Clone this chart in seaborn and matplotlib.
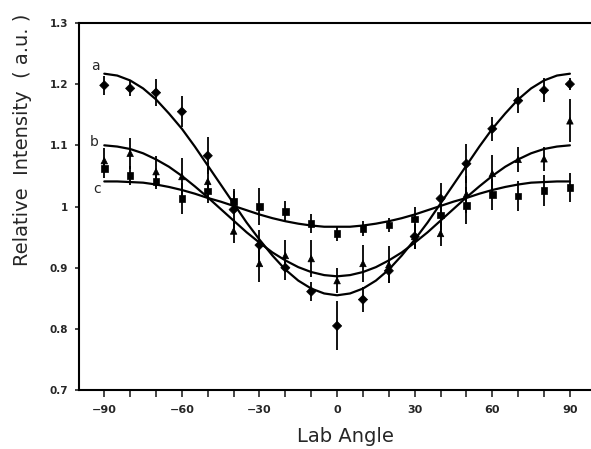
import numpy as np
import pandas as pd
import matplotlib
matplotlib.use("Agg")
import matplotlib.pyplot as plt
import seaborn as sns
from matplotlib.ticker import MultipleLocator, FixedLocator, FixedFormatter

# ---- data ----
angles = [-90, -80, -70, -60, -50, -40, -30, -20, -10, 0, 10, 20, 30, 40, 50, 60, 70, 80, 90]

a_vals = [1.198, 1.193, 1.186, 1.155, 1.083, 0.995, 0.937, 0.900, 0.861, 0.805, 0.848, 0.895, 0.951, 1.013, 1.070, 1.127, 1.173, 1.190, 1.200]
a_errs = [0.015, 0.012, 0.022, 0.025, 0.030, 0.030, 0.025, 0.020, 0.015, 0.040, 0.020, 0.020, 0.020, 0.025, 0.032, 0.020, 0.020, 0.020, 0.010]

b_vals = [1.075, 1.087, 1.057, 1.049, 1.041, 0.960, 0.907, 0.920, 0.915, 0.879, 0.907, 0.905, 0.951, 0.956, 1.020, 1.054, 1.077, 1.078, 1.140]
b_errs = [0.020, 0.025, 0.025, 0.030, 0.030, 0.020, 0.030, 0.025, 0.030, 0.020, 0.030, 0.030, 0.020, 0.020, 0.030, 0.030, 0.020, 0.020, 0.035]

c_vals = [1.062, 1.051, 1.041, 1.013, 1.025, 1.008, 1.000, 0.992, 0.972, 0.956, 0.964, 0.970, 0.980, 0.986, 1.002, 1.020, 1.017, 1.026, 1.031]
c_errs = [0.015, 0.015, 0.012, 0.025, 0.020, 0.020, 0.030, 0.017, 0.015, 0.012, 0.012, 0.012, 0.020, 0.025, 0.030, 0.025, 0.025, 0.025, 0.023]

# fitted curves, read every 5 degrees
curve_angles = [-90, -85, -80, -75, -70, -65, -60, -55, -50, -45, -40, -35, -30, -25, -20, -15, -10, -5,
                0, 5, 10, 15, 20, 25, 30, 35, 40, 45, 50, 55, 60, 65, 70, 75, 80, 85, 90]
a_curve = [1.217, 1.214, 1.206, 1.193, 1.175, 1.152, 1.127, 1.098, 1.067, 1.036, 1.005, 0.974, 0.946, 0.920, 0.897, 0.879, 0.866, 0.858,
           0.855, 0.858, 0.866, 0.879, 0.897, 0.920, 0.946, 0.974, 1.005, 1.036, 1.067, 1.098, 1.127, 1.152, 1.175, 1.193, 1.206, 1.214, 1.217]
b_curve = [1.100, 1.098, 1.094, 1.087, 1.077, 1.065, 1.050, 1.033, 1.015, 0.996, 0.977, 0.958, 0.941, 0.925, 0.912, 0.901, 0.893, 0.888,
           0.886, 0.888, 0.893, 0.901, 0.912, 0.925, 0.941, 0.958, 0.977, 0.996, 1.015, 1.033, 1.050, 1.065, 1.077, 1.087, 1.094, 1.098, 1.100]
c_curve = [1.041, 1.041, 1.040, 1.039, 1.036, 1.032, 1.027, 1.021, 1.014, 1.008, 1.001, 0.994, 0.987, 0.981, 0.976, 0.972, 0.969, 0.967,
           0.967, 0.967, 0.969, 0.972, 0.976, 0.981, 0.987, 0.994, 1.001, 1.008, 1.014, 1.021, 1.027, 1.032, 1.036, 1.039, 1.040, 1.041, 1.041]

series_names = ["a", "b", "c"]
series_markers = ["D", "^", "s"]

x_major_ticks = [-90, -60, -30, 0, 30, 60, 90]
x_tick_labels = ["−90", "−60", "−30", "0", "30", "60", "90"]
y_ticks = [0.7, 0.8, 0.9, 1.0, 1.1, 1.2, 1.3]
y_tick_labels = ["0.7", "0.8", "0.9", "1", "1.1", "1.2", "1.3"]

# ---- build tidy tables ----
pts = pd.DataFrame({
    "angle": angles * 3,
    "value": a_vals + b_vals + c_vals,
    "err": a_errs + b_errs + c_errs,
    "series": ["a"] * len(angles) + ["b"] * len(angles) + ["c"] * len(angles),
})
curves = pd.DataFrame({
    "angle": curve_angles * 3,
    "value": a_curve + b_curve + c_curve,
    "series": ["a"] * len(curve_angles) + ["b"] * len(curve_angles) + ["c"] * len(curve_angles),
})

sns.set_style("ticks")
plt.rcParams["font.family"] = ["DejaVu Sans"]

fig = plt.figure(figsize=(5.91, 4.49), dpi=100)
ax = fig.add_axes([0.134, 0.131, 0.864, 0.818])

# curves
sns.lineplot(data=curves, x="angle", y="value", units="series", estimator=None,
             color="black", linewidth=1.6, ax=ax, legend=False, sort=False)

# error bars
for name in series_names:
    sub = pts[pts["series"] == name]
    ax.errorbar(sub["angle"], sub["value"], yerr=sub["err"], fmt="none",
                ecolor="black", elinewidth=1.3, capsize=0, zorder=3)

# markers
sns.scatterplot(data=pts, x="angle", y="value", style="series", markers=dict(zip(series_names, series_markers)),
                color="black", s=22, edgecolor="black", linewidth=0.5, ax=ax, legend=False, zorder=4)

# curve labels
label_pos = {"a": (-93.5, 1.229), "b": (-93.8, 1.106), "c": (-92.8, 1.029)}
for name in series_names:
    xx, yy = label_pos[name]
    ax.text(xx, yy, name, fontsize=10, ha="center", va="center")

ax.set_xlim(-99.7, 97.7)
ax.set_ylim(0.7, 1.3)
ax.xaxis.set_major_locator(FixedLocator(x_major_ticks))
ax.xaxis.set_major_formatter(FixedFormatter(x_tick_labels))
ax.xaxis.set_minor_locator(MultipleLocator(10))
ax.yaxis.set_major_locator(FixedLocator(y_ticks))
ax.yaxis.set_major_formatter(FixedFormatter(y_tick_labels))

ax.tick_params(axis="x", which="major", direction="out", length=5, width=1.2, pad=6, labelsize=8)
ax.tick_params(axis="x", which="minor", direction="out", length=5, width=1.2)
ax.tick_params(axis="y", which="major", direction="out", length=3, width=1.2, pad=5, labelsize=7.5)
for lab in ax.get_xticklabels() + ax.get_yticklabels():
    lab.set_fontweight("bold")

for side in ["left", "bottom", "top"]:
    ax.spines[side].set_linewidth(1.5)
    ax.spines[side].set_color("black")
ax.spines["right"].set_visible(False)

ax.set_xlabel("Lab Angle", fontsize=14)
ax.set_ylabel("Relative  Intensity  ( a.u. )", fontsize=14)
ax.xaxis.set_label_coords(0.522, -0.10)
ax.yaxis.set_label_coords(-0.092, 0.681)

fig.savefig("out.png", dpi=100)
